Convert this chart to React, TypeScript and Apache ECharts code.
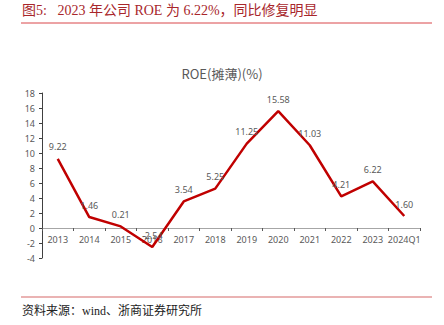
import React, { useEffect, useRef } from "react";
import * as echarts from "echarts";

const categories = ["2013", "2014", "2015", "2016", "2017", "2018", "2019", "2020", "2021", "2022", "2023", "2024Q1"];
const roeValues = [9.22, 1.46, 0.21, -2.54, 3.54, 5.25, 11.25, 15.58, 11.03, 4.21, 6.22, 1.6];
const headline = "图5:   2023 年公司 ROE 为 6.22%，同比修复明显";
const chartTitle = "ROE(摊薄)(%)";
const sourceNote = "资料来源：wind、浙商证券研究所";

export default function App() {
  const ref = useRef<HTMLDivElement>(null);
  useEffect(() => {
    if (!ref.current) return;
    const chart = echarts.init(ref.current, undefined, { renderer: "svg" });
    chart.setOption({
      animation: false,
      backgroundColor: "#ffffff",
      title: {
        text: chartTitle,
        left: "center",
        top: 62,
        textStyle: { color: "#595959", fontSize: 13, fontWeight: "normal", fontFamily: "Noto Sans CJK SC" },
      },
      graphic: [
        {
          type: "text",
          x: 22,
          y: 10,
          style: {
            text: headline,
            fill: "#a8262b",
            fontSize: 14,
            fontFamily: "'Liberation Serif', 'Noto Sans CJK SC'",
            verticalAlign: "middle",
            align: "left",
          },
        },
        {
          type: "line",
          shape: { x1: 21, y1: 23, x2: 432, y2: 23 },
          style: { stroke: "#d9474b", lineWidth: 1 },
        },
        {
          type: "line",
          shape: { x1: 21, y1: 297, x2: 432, y2: 297 },
          style: { stroke: "#e39a9a", lineWidth: 1.5 },
        },
        {
          type: "text",
          x: 22,
          y: 311,
          style: {
            text: sourceNote,
            fill: "#222222",
            fontSize: 12,
            fontFamily: "'Liberation Serif', 'Noto Sans CJK SC'",
            verticalAlign: "middle",
            align: "left",
          },
        },
      ],
      grid: { left: 42, right: 24, top: 93, bottom: 67, containLabel: false },
      xAxis: {
        type: "category",
        data: categories,
        boundaryGap: true,
        offset: -30,
        axisLine: { onZero: false, lineStyle: { color: "#a6a6a6", width: 1 } },
        axisTick: { show: true, length: 3, lineStyle: { color: "#595959" } },
        axisLabel: { color: "#595959", fontSize: 9, margin: 7, interval: 0, fontFamily: "Noto Sans" },
        splitLine: { show: false },
      },
      yAxis: {
        type: "value",
        min: -4,
        max: 18,
        interval: 2,
        axisLine: { show: true, lineStyle: { color: "#404040", width: 1 } },
        axisTick: { show: true, length: 3, lineStyle: { color: "#404040" } },
        axisLabel: { color: "#595959", fontSize: 9, margin: 7, fontFamily: "Noto Sans" },
        splitLine: { show: false },
      },
      series: [
        {
          type: "line",
          data: roeValues,
          showSymbol: true,
          symbol: "circle",
          symbolSize: 1,
          itemStyle: { color: "rgba(0,0,0,0)" },
          lineStyle: { color: "#c00000", width: 2.5 },
          label: {
            show: true,
            position: "top",
            distance: 7,
            color: "#595959",
            fontSize: 9,
            fontFamily: "Noto Sans",
            formatter: (p: any) => Number(p.value).toFixed(2),
          },
        },
      ],
    });
    return () => chart.dispose();
  }, []);
  return (
    <div style={{ position: "absolute", left: 0, top: 0 }}>
      <div ref={ref} style={{ width: 444, height: 325 }} />
    </div>
  );
}
